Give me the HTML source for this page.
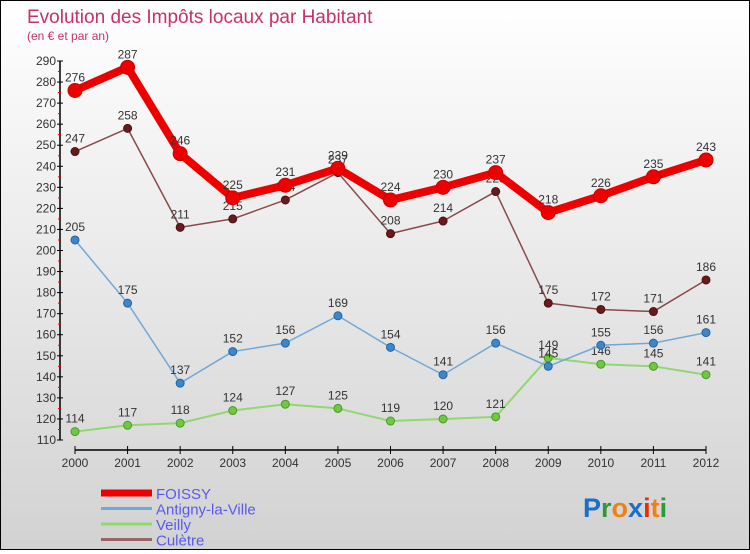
<!DOCTYPE html>
<html><head><meta charset="utf-8"><style>
html,body{margin:0;padding:0}
body{width:750px;height:550px;overflow:hidden;font-family:"Liberation Sans",sans-serif}
#wrap{position:relative;width:748px;height:548px;border:1px solid #000;background:linear-gradient(#ffffff,#d2d2d2)}
</style></head><body>
<div id="wrap">
<svg id="chart" width="748" height="548" viewBox="0 0 748 548" xmlns="http://www.w3.org/2000/svg">
<text x="26" y="22" font-size="19" fill="#c8306a">Evolution des Impôts locaux par Habitant</text>
<text x="26" y="39" font-size="12" fill="#c8306a">(en € et par an)</text>
<g id="axes"></g>
<g id="series"></g>
<g id="legend"></g>
<text x="582" y="516" font-size="27" font-weight="bold"><tspan fill="#1a70c8">P</tspan><tspan fill="#2a9a3a">r</tspan><tspan fill="#f08010">o</tspan><tspan fill="#1a70c8">x</tspan><tspan fill="#e03010">i</tspan><tspan fill="#f08010">t</tspan><tspan fill="#2a9a3a">i</tspan></text>
</svg>
</div>
<script>
const years=[2000,2001,2002,2003,2004,2005,2006,2007,2008,2009,2010,2011,2012];
const foissy=[276,287,246,225,231,239,224,230,237,218,226,235,243];
const antigny=[205,175,137,152,156,169,154,141,156,145,155,156,161];
const veilly=[114,117,118,124,127,125,119,120,121,149,146,145,141];
const culetre=[247,258,211,215,224,237,208,214,228,175,172,171,186];
const yTicks=[110,120,130,140,150,160,170,180,190,200,210,220,230,240,250,260,270,280,290];
const seriesNames=["FOISSY","Antigny-la-Ville","Veilly","Culètre"];
const NS="http://www.w3.org/2000/svg";
const X=i=>74+i*(705-74)/(years.length-1);
const Y=v=>439-(v-110)*(439-60)/180;
function mk(t,a,p){const e=document.createElementNS(NS,t);for(const k in a)e.setAttribute(k,a[k]);p.appendChild(e);return e;}
const ax=document.getElementById('axes');
let e=mk('line',{x1:59,y1:Y(290),x2:59,y2:Y(110),stroke:'#000','stroke-width':1.5},ax);


e=mk('line',{x1:X(0),y1:449,x2:X(12),y2:449,stroke:'#000','stroke-width':1.5},ax);


yTicks.forEach((t,i)=>{
  mk('line',{x1:56,y1:Y(t),x2:62,y2:Y(t),stroke:'#000'},ax);
  if(i<yTicks.length-1)mk('line',{x1:57,y1:Y(t+5),x2:60,y2:Y(t+5),stroke:'#e00000'},ax);
  const tx=mk('text',{x:55,y:Y(t)+4,'font-size':12,fill:'#333','text-anchor':'end'},ax);
  tx.textContent=t;
  
  
});
years.forEach((y,i)=>{
  mk('line',{x1:X(i),y1:445,x2:X(i),y2:453,stroke:'#000'},ax);
  const tx=mk('text',{x:X(i),y:466,'font-size':12,fill:'#333','text-anchor':'middle'},ax);
  tx.textContent=y;
  
  
});
const sg=document.getElementById('series');
function draw(vals,name,color,w,r,dot,dotStroke){
  const g=mk('g',{},sg);
  
  
  const l=mk('polyline',{points:vals.map((v,i)=>X(i)+','+Y(v)).join(' '),fill:'none',stroke:color,'stroke-width':w,'stroke-linejoin':'round'},g);
  
  
  vals.forEach((v,i)=>{
    const c=mk('circle',{cx:X(i),cy:Y(v),r:r,fill:dot,stroke:dotStroke,'stroke-width':1},g);
    
    
    const t=mk('text',{x:X(i),y:Y(v)-9,'font-size':12,fill:'#333','text-anchor':'middle'},g);
    t.textContent=v;
    
    
  });
}
draw(veilly,'veilly','#90d870',2,4,'#70c840','#4a9a2a');
draw(antigny,'antigny','#70a8d8',1.5,4,'#3a88c8','#2a60a0');
draw(culetre,'culetre','#8a4a4a',1.5,4,'#6a1a1a','#4a1010');
draw(foissy,'foissy','#ee0000',8,7,'#ee0000','#cc0000');
const lg=document.getElementById('legend');
const lc=['#ee0000','#70a8d8','#90d870','#9a6464'],lw=[7,3,3,3];
seriesNames.forEach((n,i)=>{
  const yy=492+i*15.5;
  mk('line',{x1:100,y1:yy,x2:151,y2:yy,stroke:lc[i],'stroke-width':lw[i]},lg);
  const t=mk('text',{x:155,y:yy+6,'font-size':15,fill:'#5a5aee'},lg);
  t.textContent=n;
  
  
});
</script>
</body></html>
